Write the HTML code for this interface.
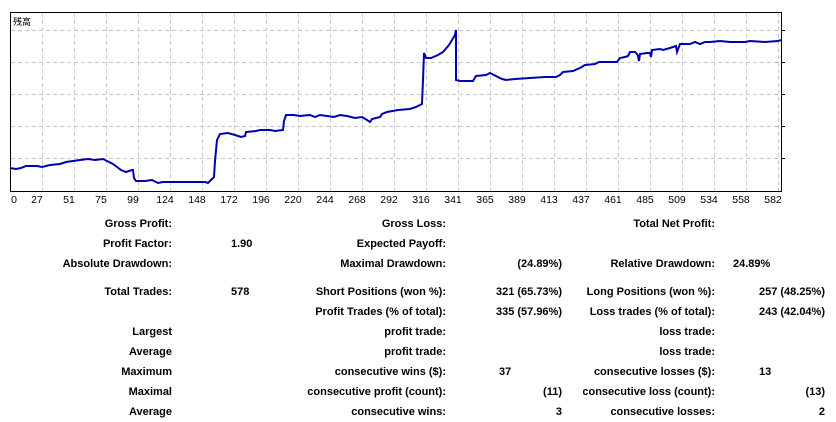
<!DOCTYPE html>
<html><head><meta charset="utf-8"><style>
html,body{margin:0;padding:0;background:#fff;width:836px;height:422px;overflow:hidden;position:relative}
.t{position:absolute;font-family:"Liberation Sans",Arial,sans-serif;font-weight:bold;font-size:11px;color:#000;white-space:nowrap;line-height:14px}
.r{text-align:right}
</style></head><body>
<svg width="836" height="210" style="position:absolute;left:0;top:0" xmlns="http://www.w3.org/2000/svg">
<g stroke="#c8c8c8" stroke-dasharray="4,3" stroke-width="1">
<line x1="11" y1="30.5" x2="781" y2="30.5"/><line x1="11" y1="62.5" x2="781" y2="62.5"/><line x1="11" y1="94.5" x2="781" y2="94.5"/><line x1="11" y1="126.5" x2="781" y2="126.5"/><line x1="11" y1="158.5" x2="781" y2="158.5"/>
<line x1="42.5" y1="13" x2="42.5" y2="191"/><line x1="74.5" y1="13" x2="74.5" y2="191"/><line x1="106.5" y1="13" x2="106.5" y2="191"/><line x1="138.5" y1="13" x2="138.5" y2="191"/><line x1="170.5" y1="13" x2="170.5" y2="191"/><line x1="202.5" y1="13" x2="202.5" y2="191"/><line x1="234.5" y1="13" x2="234.5" y2="191"/><line x1="266.5" y1="13" x2="266.5" y2="191"/><line x1="298.5" y1="13" x2="298.5" y2="191"/><line x1="330.5" y1="13" x2="330.5" y2="191"/><line x1="362.5" y1="13" x2="362.5" y2="191"/><line x1="394.5" y1="13" x2="394.5" y2="191"/><line x1="426.5" y1="13" x2="426.5" y2="191"/><line x1="458.5" y1="13" x2="458.5" y2="191"/><line x1="490.5" y1="13" x2="490.5" y2="191"/><line x1="522.5" y1="13" x2="522.5" y2="191"/><line x1="554.5" y1="13" x2="554.5" y2="191"/><line x1="586.5" y1="13" x2="586.5" y2="191"/><line x1="618.5" y1="13" x2="618.5" y2="191"/><line x1="650.5" y1="13" x2="650.5" y2="191"/><line x1="682.5" y1="13" x2="682.5" y2="191"/><line x1="714.5" y1="13" x2="714.5" y2="191"/><line x1="746.5" y1="13" x2="746.5" y2="191"/><line x1="778.5" y1="13" x2="778.5" y2="191"/>
</g>
<rect x="10.5" y="12.5" width="771" height="179" fill="none" stroke="#000" stroke-width="1"/>
<g stroke="#000" stroke-width="1">
<line x1="782" y1="30.5" x2="785" y2="30.5"/><line x1="782" y1="62.5" x2="785" y2="62.5"/><line x1="782" y1="94.5" x2="785" y2="94.5"/><line x1="782" y1="126.5" x2="785" y2="126.5"/><line x1="782" y1="158.5" x2="785" y2="158.5"/>
</g>
<polyline fill="none" stroke="#0000b0" stroke-width="2" points="10,168 16,169 21,168 26,166 37,166 42,167 50,165 60,164 66,162 80,160 88,159 95,160 103,159 107,161 113,164 121,170 126,172 132,170 133,170 134,178 136,181 145,181 152,180 158,183 163,182 205,182 208,183 212,179 214,177 215,161 217,140 220,134 228,133 235,135 241,137 245,136 246,132 256,131 260,130 270,130 275,131 283,130 284,121 286,115 294,115 300,116 310,115 315,117 320,115 327,116 334,117 340,115 347,116 355,118 362,117 367,120 370,122 372,119 380,117 382,114 387,112 398,110 410,109 416,107 420,105 422,104 423,80 424,53 426,58 431,58 438,55 443,52 449,45 455,35 456,30 456,80 460,81 473,81 476,76 486,75 490,73 496,76 502,79 506,80 515,79 530,78 545,77 556,77 560,75 563,72 573,71 580,68 585,65 595,64 599,62 605,62 617,62 620,58 625,57 628,56 630,52 635,52 637,54 638,56 639,61 640,54 647,53 650,53 651,57 652,50 660,49 663,50 670,48 676,46 677,52 680,44 690,44 695,42 700,44 705,42 710,42 720,41 730,42 745,42 750,41 765,42 778,41 781,40"/>
<text x="13" y="25" font-family="'Noto Sans CJK JP',sans-serif" font-size="9" fill="#000">残高</text>
<g font-family="'Liberation Sans',Arial,sans-serif" font-size="10.5" fill="#000" text-anchor="middle">
<text x="14" y="203">0</text><text x="37" y="203">27</text><text x="69" y="203">51</text><text x="101" y="203">75</text><text x="133" y="203">99</text><text x="165" y="203">124</text><text x="197" y="203">148</text><text x="229" y="203">172</text><text x="261" y="203">196</text><text x="293" y="203">220</text><text x="325" y="203">244</text><text x="357" y="203">268</text><text x="389" y="203">292</text><text x="421" y="203">316</text><text x="453" y="203">341</text><text x="485" y="203">365</text><text x="517" y="203">389</text><text x="549" y="203">413</text><text x="581" y="203">437</text><text x="613" y="203">461</text><text x="645" y="203">485</text><text x="677" y="203">509</text><text x="709" y="203">534</text><text x="741" y="203">558</text><text x="773" y="203">582</text>
</g>
</svg>

<div class="t r" style="right:664px;top:217px">Gross Profit:</div>
<div class="t r" style="right:390px;top:217px">Gross Loss:</div>
<div class="t r" style="right:121px;top:217px">Total Net Profit:</div>

<div class="t r" style="right:664px;top:237px">Profit Factor:</div>
<div class="t" style="left:231px;top:237px">1.90</div>
<div class="t r" style="right:390px;top:237px">Expected Payoff:</div>

<div class="t r" style="right:664px;top:257px">Absolute Drawdown:</div>
<div class="t r" style="right:390px;top:257px">Maximal Drawdown:</div>
<div class="t r" style="right:274px;top:257px">(24.89%)</div>
<div class="t r" style="right:121px;top:257px">Relative Drawdown:</div>
<div class="t" style="left:733px;top:257px">24.89%</div>

<div class="t r" style="right:664px;top:285px">Total Trades:</div>
<div class="t" style="left:231px;top:285px">578</div>
<div class="t r" style="right:390px;top:285px">Short Positions (won %):</div>
<div class="t r" style="right:274px;top:285px">321 (65.73%)</div>
<div class="t r" style="right:121px;top:285px">Long Positions (won %):</div>
<div class="t r" style="right:11px;top:285px">257 (48.25%)</div>

<div class="t r" style="right:390px;top:305px">Profit Trades (% of total):</div>
<div class="t r" style="right:274px;top:305px">335 (57.96%)</div>
<div class="t r" style="right:121px;top:305px">Loss trades (% of total):</div>
<div class="t r" style="right:11px;top:305px">243 (42.04%)</div>

<div class="t r" style="right:664px;top:325px">Largest</div>
<div class="t r" style="right:390px;top:325px">profit trade:</div>
<div class="t r" style="right:121px;top:325px">loss trade:</div>

<div class="t r" style="right:664px;top:345px">Average</div>
<div class="t r" style="right:390px;top:345px">profit trade:</div>
<div class="t r" style="right:121px;top:345px">loss trade:</div>

<div class="t r" style="right:664px;top:365px">Maximum</div>
<div class="t r" style="right:390px;top:365px">consecutive wins ($):</div>
<div class="t" style="left:499px;top:365px">37</div>
<div class="t r" style="right:121px;top:365px">consecutive losses ($):</div>
<div class="t" style="left:759px;top:365px">13</div>

<div class="t r" style="right:664px;top:385px">Maximal</div>
<div class="t r" style="right:390px;top:385px">consecutive profit (count):</div>
<div class="t r" style="right:274px;top:385px">(11)</div>
<div class="t r" style="right:121px;top:385px">consecutive loss (count):</div>
<div class="t r" style="right:11px;top:385px">(13)</div>

<div class="t r" style="right:664px;top:405px">Average</div>
<div class="t r" style="right:390px;top:405px">consecutive wins:</div>
<div class="t r" style="right:274px;top:405px">3</div>
<div class="t r" style="right:121px;top:405px">consecutive losses:</div>
<div class="t r" style="right:11px;top:405px">2</div>
</body></html>
